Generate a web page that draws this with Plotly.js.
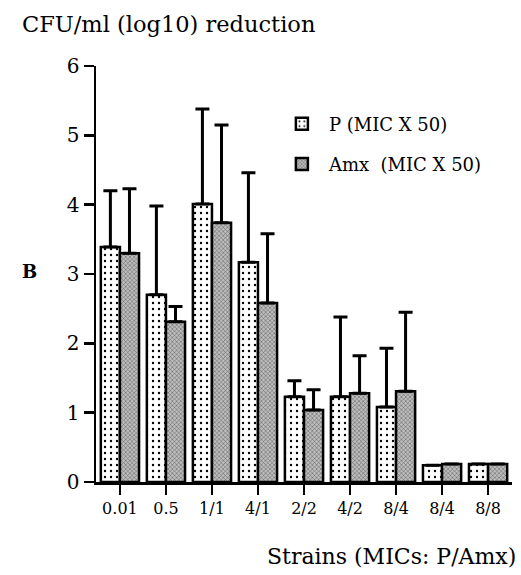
<!DOCTYPE html>
<html>
<head>
<meta charset="utf-8">
<script src="https://cdn.plot.ly/plotly-3.0.1.min.js"></script>
<style>html,body{margin:0;padding:0;background:#fff;}#chart{width:521px;height:575px;}</style>
</head>
<body>
<div id="chart"></div>
<script>
var categories = ["0.01", "0.5", "1/1", "4/1", "2/2", "4/2", "8/4", "8/4", "8/8"];
var pValues   = [3.39, 2.70, 4.01, 3.17, 1.23, 1.23, 1.08, 0.24, 0.26];
var pErrors   = [0.81, 1.28, 1.37, 1.29, 0.23, 1.15, 0.85, 0, 0];
var amxValues = [3.30, 2.31, 3.74, 2.58, 1.04, 1.28, 1.31, 0.26, 0.26];
var amxErrors = [0.93, 0.22, 1.41, 1.00, 0.29, 0.54, 1.14, 0, 0];
var yTicks = [0, 1, 2, 3, 4, 5, 6];

var serif = "DejaVu Serif, Liberation Serif, serif";
var xPos = categories.map(function (c, i) { return i; });
var zeros = categories.map(function () { return 0; });

var traceP = {
  type: "bar", name: "P (MIC X 50)", x: xPos, y: pValues, legendgroup: "p",
  marker: {
    color: "#ffffff",
    line: {color: "#000", width: 2.5},
    pattern: {shape: ".", fgcolor: "#000", bgcolor: "#fff", size: 6, solidity: 0.12}
  },
  error_y: {type: "data", symmetric: false, array: pErrors, arrayminus: zeros,
            color: "#000", thickness: 3, width: 7}
};
var traceA = {
  type: "bar", name: "Amx  (MIC X 50)", x: xPos, y: amxValues, legendgroup: "a",
  marker: {
    color: "#a8a8a8",
    line: {color: "#000", width: 2.5},
    pattern: {shape: "x", fgcolor: "#555", bgcolor: "#bdbdbd", size: 3, solidity: 0.3}
  },
  error_y: {type: "data", symmetric: false, array: amxErrors, arrayminus: zeros,
            color: "#000", thickness: 3, width: 7}
};

var layout = {
  width: 521, height: 575,
  margin: {l: 96, r: 9, t: 66, b: 93},
  paper_bgcolor: "#fff", plot_bgcolor: "#fff",
  barmode: "group", bargap: 0.17, bargroupgap: 0,
  showlegend: true,
  legend: {x: 0.43, y: 0.905, xanchor: "left", yanchor: "top",
           font: {family: serif, size: 18, color: "#000"},
           bgcolor: "rgba(0,0,0,0)", traceorder: "grouped", tracegroupgap: 14, itemwidth: 44},
  font: {family: serif, color: "#000"},
  xaxis: {
    range: [-0.52, 8.52], tickvals: xPos, ticktext: categories,
    showline: true, linecolor: "#000", linewidth: 2.5,
    ticks: "outside", ticklen: 10, tickwidth: 2, tickcolor: "#000",
    showgrid: false, zeroline: false, fixedrange: true,
    tickfont: {family: serif, size: 16, color: "#000"}
  },
  yaxis: {
    range: [0, 6], tickvals: yTicks,
    showline: true, linecolor: "#000", linewidth: 2.5,
    ticks: "outside", ticklen: 10, tickwidth: 2.5, tickcolor: "#000",
    showgrid: false, zeroline: false, fixedrange: true,
    tickfont: {family: serif, size: 20, color: "#000"}
  },
  annotations: [
    {text: "CFU/ml (log10) reduction", xref: "paper", yref: "paper",
     x: (20 - 96) / 416, y: 1 + (66 - 24) / 416, xanchor: "left", yanchor: "middle", showarrow: false,
     font: {family: serif, size: 22.5, color: "#000"}},
    {text: "<b>B</b>", xref: "paper", yref: "paper",
     x: (20 - 96) / 416, y: (482 - 271) / 416, xanchor: "left", yanchor: "middle", showarrow: false,
     font: {family: serif, size: 18, color: "#000"}},
    {text: "Strains (MICs: P/Amx)", xref: "paper", yref: "paper",
     x: 1 + 6 / 416, y: -(556 - 482) / 416, xanchor: "right", yanchor: "middle", showarrow: false,
     font: {family: serif, size: 22, color: "#000"}}
  ]
};

Plotly.newPlot("chart", [traceP, traceA], layout, {displayModeBar: false, staticPlot: true});
</script>
</body>
</html>
